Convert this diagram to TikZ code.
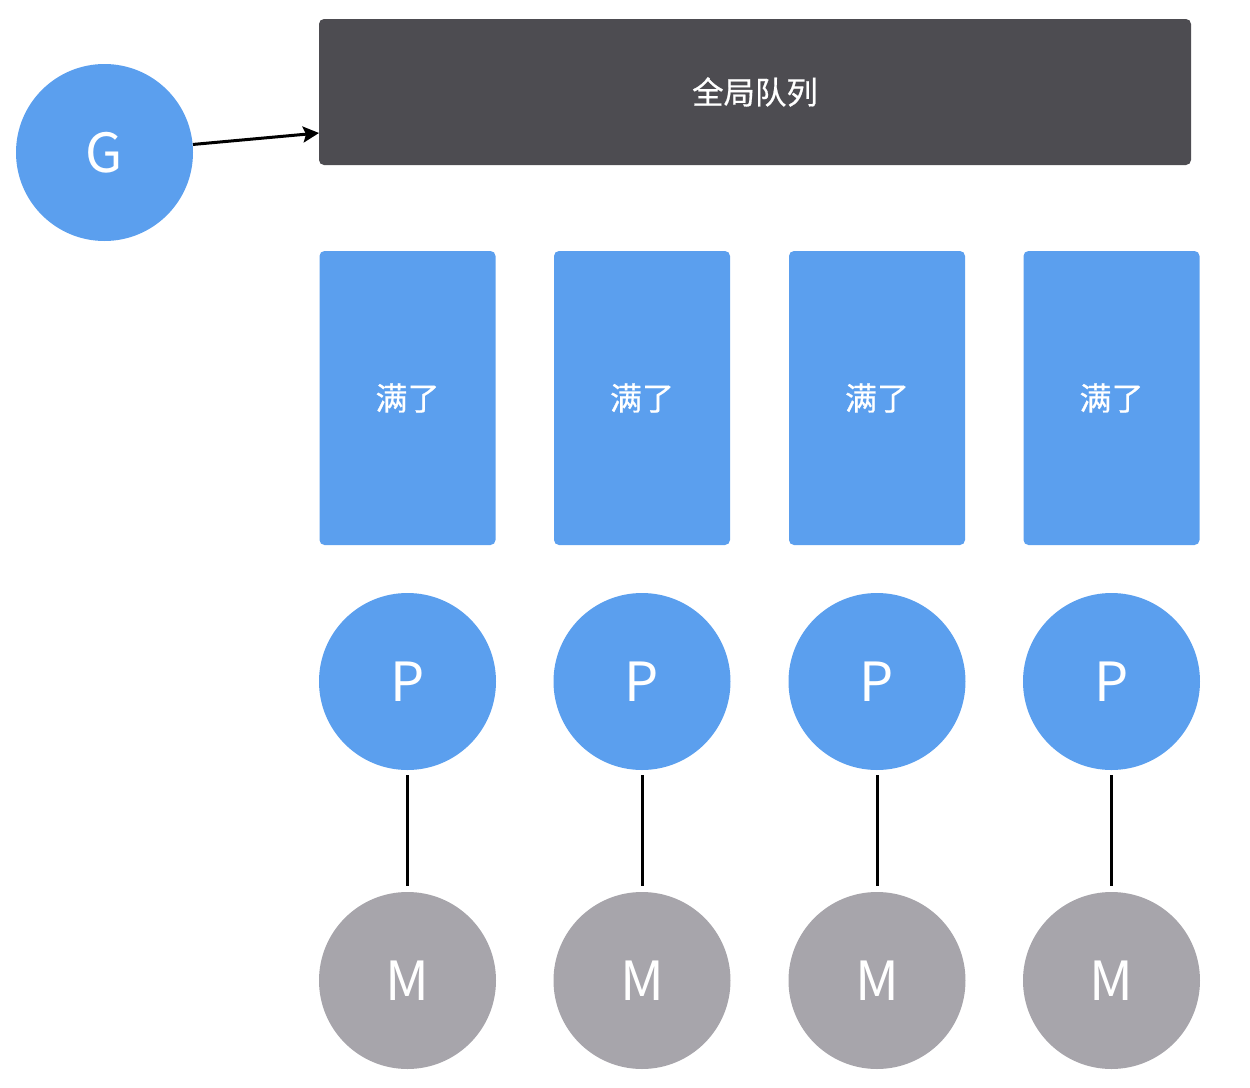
\documentclass[tikz,border=0pt]{standalone}
\usepackage{fontspec}
\setmainfont{Noto Sans CJK SC}
\newfontfamily\cjkmed[FakeBold=0.6]{Noto Sans CJK SC}
\usetikzlibrary{arrows.meta}
\definecolor{qblue}{HTML}{5B9FEE}
\definecolor{qdark}{HTML}{4D4C51}
\definecolor{qgray}{HTML}{A7A5AB}
\tikzset{
  circ/.style={circle,fill=#1,draw=none,minimum size=88.5pt,inner sep=0pt,text=white,font=\fontsize{27pt}{30pt}\selectfont},
  lrq/.style={rectangle,rounded corners=2.5pt,fill=qblue,draw=none,minimum width=88pt,minimum height=147pt,inner sep=0pt,text=white,font=\cjkmed\fontsize{16pt}{19pt}\selectfont},
  link/.style={line width=1.5pt,shorten <=2.5pt,shorten >=3pt},
}
\begin{document}
\begin{tikzpicture}[x=0.5pt,y=-0.5pt]
\useasboundingbox (0,0) rectangle (1250,1088);
\node[rectangle,rounded corners=2.5pt,fill=qdark,minimum width=436pt,minimum height=73pt,inner sep=0pt,text=white,font=\cjkmed\fontsize{15.7pt}{18pt}\selectfont] (Q) at (755,92) {全局队列};
\node[circ=qblue] (G) at (104.5,152.5) {G};
\coordinate (qin) at (319,133);
\draw[line width=1.5pt,-{Stealth[length=8pt,width=8pt,inset=1.5pt]}] (G) -- (qin);
\foreach \i/\x in {1/407.5,2/642,3/877,4/1111.5}{
  \node[lrq] (L\i) at (\x,398) {满了};
  \node[circ=qblue] (P\i) at (\x,681.5) {P};
  \node[circ=qgray] (M\i) at (\x,980.5) {M};
  \draw[link] (P\i) -- (M\i);
}
\end{tikzpicture}
\end{document}
